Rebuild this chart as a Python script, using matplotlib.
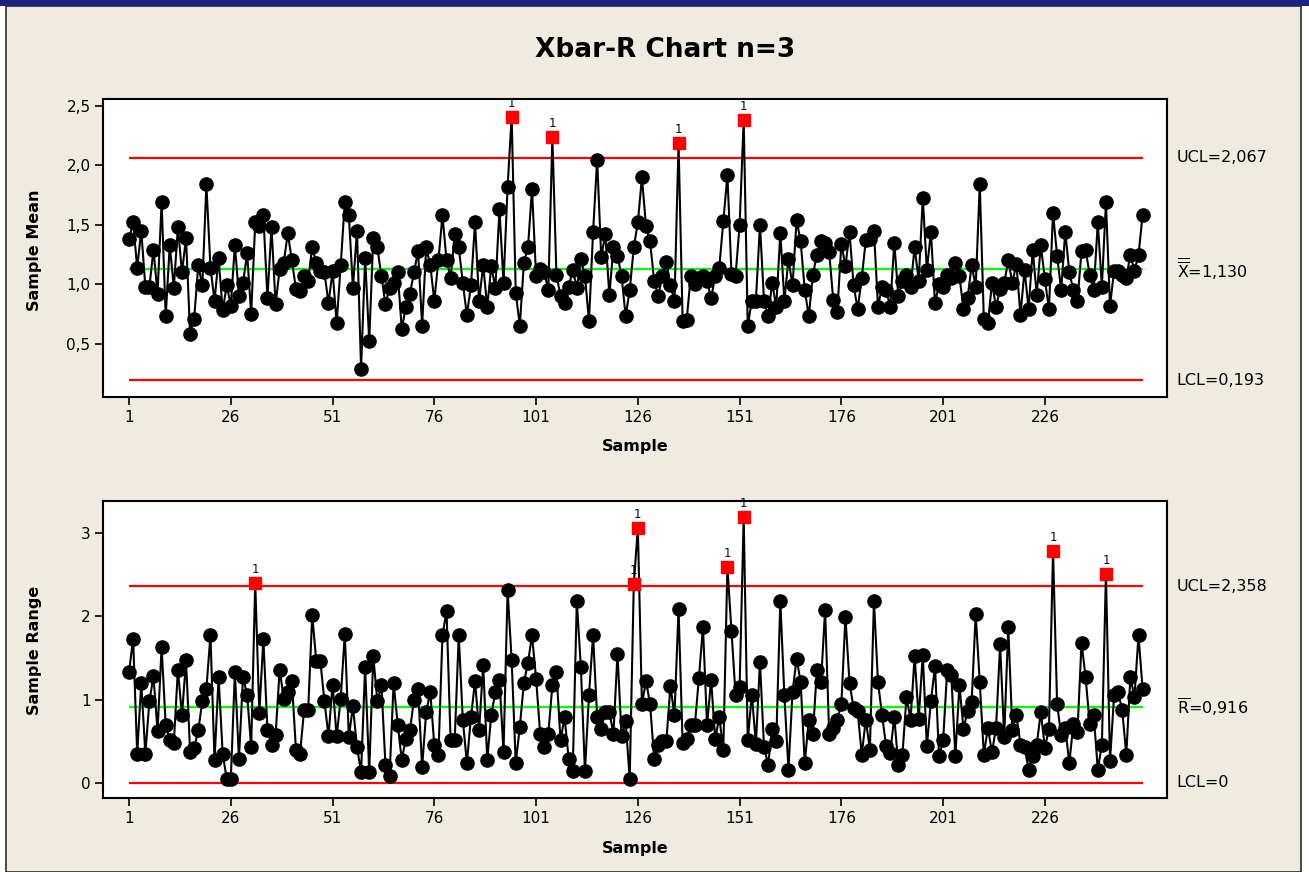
import matplotlib
matplotlib.use('Agg')
import matplotlib.pyplot as plt
from matplotlib.patches import Rectangle
import numpy as np

plt.rcParams['font.family'] = ['DejaVu Sans']

# sample means, subgroups of 3
xbar = [
    1.38, 1.52, 1.14, 1.45, 0.98, 0.98, 1.29, 0.92, 1.69, 0.73,
    1.33, 0.97, 1.48, 1.10, 1.39, 0.58, 0.71, 1.16, 0.99, 1.84,
    1.14, 0.86, 1.22, 0.78, 0.99, 0.82, 1.33, 0.90, 1.01, 1.26,
    0.75, 1.52, 1.49, 1.58, 0.88, 1.48, 0.83, 1.13, 1.18, 1.43,
    1.20, 0.96, 0.94, 1.07, 1.03, 1.31, 1.18, 1.11, 1.10, 0.84,
    1.11, 0.67, 1.16, 1.69, 1.58, 0.97, 1.45, 0.29, 1.22, 0.52,
    1.39, 1.31, 1.07, 0.83, 0.97, 1.01, 1.10, 0.62, 0.81, 0.92,
    1.10, 1.28, 0.65, 1.31, 1.16, 0.86, 1.20, 1.58, 1.20, 1.05,
    1.42, 1.31, 1.01, 0.74, 0.99, 1.52, 0.86, 1.16, 0.81, 1.15,
    0.97, 1.63, 1.01, 1.82, 2.41, 0.93, 0.65, 1.18, 1.31, 1.80,
    1.07, 1.13, 1.10, 0.95, 2.24, 1.08, 0.90, 0.84, 0.98, 1.12,
    0.97, 1.21, 1.07, 0.69, 1.44, 2.05, 1.23, 1.42, 0.91, 1.31,
    1.24, 1.07, 0.73, 0.95, 1.31, 1.52, 1.90, 1.49, 1.36, 1.03,
    0.90, 1.07, 1.19, 0.99, 0.86, 2.19, 0.69, 0.70, 1.07, 1.00,
    1.05, 1.07, 1.03, 0.88, 1.07, 1.14, 1.53, 1.92, 1.09, 1.07,
    1.50, 2.38, 0.65, 0.86, 0.86, 1.50, 0.86, 0.73, 1.01, 0.81,
    1.43, 0.86, 1.21, 0.99, 1.54, 1.36, 0.95, 0.73, 1.08, 1.25,
    1.36, 1.35, 1.27, 0.87, 0.77, 1.34, 1.15, 1.44, 0.99, 0.79,
    1.05, 1.37, 1.38, 1.45, 0.81, 0.98, 0.95, 0.81, 1.35, 0.90,
    1.03, 1.08, 0.98, 1.31, 1.03, 1.73, 1.12, 1.44, 0.84, 1.00,
    0.98, 1.08, 1.05, 1.18, 1.07, 0.79, 0.88, 1.16, 0.98, 1.84,
    0.71, 0.67, 1.01, 0.81, 0.96, 1.01, 1.20, 1.01, 1.17, 0.74,
    1.12, 0.79, 1.29, 0.91, 1.33, 1.04, 0.79, 1.60, 1.24, 0.95,
    1.44, 1.10, 0.95, 0.86, 1.28, 1.29, 1.08, 0.95, 1.52, 0.98,
    1.69, 0.82, 1.11, 1.11, 1.08, 1.05, 1.25, 1.11, 1.25, 1.58,
]

# sample ranges
rng = [
    1.33, 1.73, 0.35, 1.20, 0.35, 0.98, 1.28, 0.62, 1.63, 0.70,
    0.52, 0.48, 1.36, 0.81, 1.47, 0.37, 0.42, 0.63, 0.98, 1.13,
    1.77, 0.27, 1.27, 0.35, 0.05, 0.05, 1.33, 0.29, 1.27, 1.06,
    0.43, 2.40, 0.84, 1.73, 0.63, 0.46, 0.57, 1.36, 1.01, 1.09,
    1.22, 0.40, 0.35, 0.87, 0.87, 2.01, 1.46, 1.46, 0.98, 0.56,
    1.18, 0.56, 1.01, 1.79, 0.55, 0.92, 0.43, 0.13, 1.39, 0.13,
    1.52, 0.98, 1.17, 0.21, 0.08, 1.20, 0.70, 0.28, 0.53, 0.63,
    1.00, 1.13, 0.19, 0.85, 1.09, 0.45, 0.33, 1.77, 2.06, 0.51,
    0.51, 1.77, 0.75, 0.24, 0.79, 1.22, 0.63, 1.42, 0.28, 0.82,
    1.09, 1.24, 0.37, 2.31, 1.47, 0.24, 0.67, 1.20, 1.44, 1.77,
    1.25, 0.59, 0.43, 0.59, 1.17, 1.33, 0.51, 0.79, 0.29, 0.14,
    2.18, 1.39, 0.14, 1.06, 1.77, 0.79, 0.65, 0.85, 0.85, 0.59,
    1.55, 0.56, 0.74, 0.05, 2.38, 3.06, 0.95, 1.22, 0.95, 0.29,
    0.45, 0.50, 0.50, 1.16, 0.81, 2.09, 0.48, 0.53, 0.69, 0.69,
    1.26, 1.87, 0.69, 1.24, 0.53, 0.79, 0.40, 2.59, 1.82, 1.06,
    1.15, 3.19, 0.51, 1.06, 0.47, 1.45, 0.43, 0.22, 0.65, 0.50,
    2.18, 1.05, 0.16, 1.09, 1.49, 1.21, 0.24, 0.76, 0.59, 1.36,
    1.21, 2.07, 0.59, 0.66, 0.76, 0.95, 1.99, 1.20, 0.90, 0.86,
    0.34, 0.76, 0.40, 2.18, 1.21, 0.81, 0.44, 0.36, 0.79, 0.21,
    0.34, 1.03, 0.76, 1.52, 0.77, 1.54, 0.44, 0.98, 1.40, 0.32,
    0.51, 1.36, 1.30, 0.32, 1.17, 0.65, 0.86, 0.97, 2.02, 1.21,
    0.34, 0.66, 0.37, 0.66, 1.66, 0.55, 1.87, 0.64, 0.81, 0.46,
    0.43, 0.16, 0.32, 0.46, 0.85, 0.42, 0.65, 2.78, 0.95, 0.57,
    0.66, 0.24, 0.71, 0.61, 1.68, 1.27, 0.71, 0.81, 0.16, 0.46,
    2.51, 0.26, 1.05, 1.09, 0.87, 0.34, 1.27, 1.03, 1.77, 1.13,
]

xbar_ucl, xbar_cl, xbar_lcl = 2.067, 1.130, 0.193
r_ucl, r_cl, r_lcl = 2.358, 0.916, 0.0

x_ticks = [1, 26, 51, 76, 101, 126, 151, 176, 201, 226]
xbar_ticks = [0.5, 1.0, 1.5, 2.0, 2.5]
xbar_ticklabels = ['0,5', '1,0', '1,5', '2,0', '2,5']
r_ticks = [0, 1, 2, 3]
r_ticklabels = ['0', '1', '2', '3']

W, H = 1309, 872
fig = plt.figure(figsize=(W / 100, H / 100), dpi=100)
fig.patch.set_facecolor('white')
fig.patches.append(Rectangle((6 / W, 0), (1301 - 6) / W, 1 - 6 / H,
                             transform=fig.transFigure, facecolor='#efebe1',
                             edgecolor='#2b2b2b', linewidth=1.2, zorder=-10))
fig.patches.append(Rectangle((0, 1 - 6 / H), 1, 6 / H, transform=fig.transFigure,
                             facecolor='#1d2280', edgecolor='none', zorder=-9))

ax1 = fig.add_axes([103 / W, 1 - 397 / H, 1064 / W, 298 / H])
ax2 = fig.add_axes([103 / W, 1 - 798 / H, 1064 / W, 297 / H])


def draw(ax, vals, cl, ucl, lcl, ylim, yticks, yticklabels, labels):
    vals = np.array(vals)
    n = np.arange(1, len(vals) + 1)
    ax.set_facecolor('white')
    ax.hlines([ucl, lcl], 1, len(vals), colors='#ff0000', lw=1.6, zorder=2)
    ax.hlines(cl, 1, len(vals), colors='#00ff00', lw=1.6, zorder=2)
    ax.plot(n, vals, color='black', lw=1.5, zorder=3)
    out = (vals > ucl) | (vals < lcl)
    ax.plot(n[~out], vals[~out], 'o', color='black', ms=9.5, zorder=3)
    ax.plot(n[out], vals[out], 's', color='#ff0000', ms=8.5, zorder=4)
    for i in n[out]:
        ax.annotate('1', (i, vals[i - 1]), xytext=(0, 5), textcoords='offset points',
                    ha='center', va='bottom', fontsize=8.5)
    ax.set_xlim(-5.4, 256)
    ax.set_ylim(*ylim)
    ax.set_xticks(x_ticks)
    ax.set_yticks(yticks)
    ax.set_yticklabels(yticklabels)
    ax.tick_params(direction='out', length=6, width=1.2, labelsize=11, pad=3)
    for s in ax.spines.values():
        s.set_linewidth(1.5)
    tr = ax.get_yaxis_transform()
    for v, t in zip([ucl, cl, lcl], labels):
        ax.text(1.009, v, t, transform=tr, va='center', ha='left', fontsize=11.5)


draw(ax1, xbar, xbar_cl, xbar_ucl, xbar_lcl, (0.05, 2.56), xbar_ticks, xbar_ticklabels,
     ['UCL=2,067', r'$\overline{\overline{\mathrm{X}}}$=1,130', 'LCL=0,193'])
draw(ax2, rng, r_cl, r_ucl, r_lcl, (-0.18, 3.38), r_ticks, r_ticklabels,
     ['UCL=2,358', r'$\overline{\mathrm{R}}$=0,916', 'LCL=0'])

fig.text(0.508, 1 - 50 / H, 'Xbar-R Chart n=3', ha='center', va='center',
         fontsize=19, fontweight='bold')
fig.text(635 / W, 1 - 446 / H, 'Sample', ha='center', va='center', fontsize=11.5, fontweight='bold')
fig.text(635 / W, 1 - 848 / H, 'Sample', ha='center', va='center', fontsize=11.5, fontweight='bold')
fig.text(35 / W, 1 - 250 / H, 'Sample Mean', ha='center', va='center', rotation=90,
         fontsize=11.5, fontweight='bold')
fig.text(35 / W, 1 - 650 / H, 'Sample Range', ha='center', va='center', rotation=90,
         fontsize=11.5, fontweight='bold')

fig.savefig('out.png', dpi=100, facecolor=fig.get_facecolor())
